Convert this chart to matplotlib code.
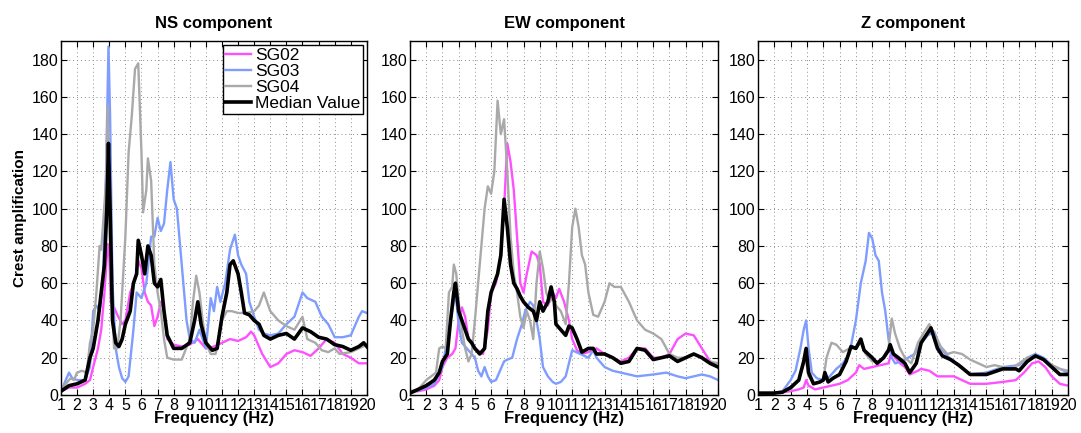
import numpy as np
from matplotlib import pyplot as plt

plt.rcParams['font.family'] = ['Liberation Sans', 'DejaVu Sans']

# colours of the stations
c_sg02 = '#ff50ff'
c_sg03 = '#7f9cff'
c_sg04 = '#a9a9a9'

# ---- NS component ----
ns_sg02_f = [1.0, 1.5, 2.0, 2.5, 2.8, 3.0, 3.3, 3.5, 3.7, 3.9, 4.0, 4.1, 4.3, 4.5, 4.8, 5.0, 5.3, 5.6, 5.8, 6.0, 6.2, 6.4, 6.6, 6.8, 7.0, 7.2, 7.4, 7.6, 8.0, 8.5, 9.0, 9.5, 10.0, 10.5, 11.0, 11.5, 12.0, 12.5, 12.8, 13.0, 13.5, 14.0, 14.5, 15.0, 15.5, 16.0, 16.5, 17.0, 17.5, 18.0, 18.5, 19.0, 19.5, 20.0]
ns_sg02_v = [2, 4, 4, 6, 8, 15, 25, 35, 55, 81, 75, 50, 47, 43, 38, 40, 55, 62, 72, 68, 55, 50, 48, 37, 42, 50, 45, 30, 27, 26, 27, 30, 25, 26, 28, 30, 29, 31, 34, 32, 22, 15, 17, 22, 24, 23, 21, 25, 30, 28, 22, 20, 17, 17]
ns_sg03_f = [1.0, 1.3, 1.5, 1.7, 2.0, 2.5, 2.8, 3.0, 3.2, 3.4, 3.6, 3.8, 3.95, 4.05, 4.2, 4.4, 4.6, 4.8, 5.0, 5.2, 5.5, 5.7, 6.0, 6.3, 6.6, 6.8, 7.0, 7.2, 7.4, 7.6, 7.8, 8.0, 8.2, 8.4, 8.6, 8.8, 9.0, 9.3, 9.6, 10.0, 10.3, 10.5, 10.7, 10.9, 11.2, 11.5, 11.8, 12.0, 12.2, 12.5, 12.7, 13.0, 13.3, 13.6, 14.0, 14.5, 15.0, 15.5, 16.0, 16.3, 16.8, 17.2, 17.6, 18.0, 18.5, 19.0, 19.5, 19.7, 20.0]
ns_sg03_v = [2, 8, 12, 9, 8, 8, 15, 45, 48, 45, 60, 120, 187, 150, 60, 25, 15, 9, 7, 10, 35, 55, 52, 60, 85, 85, 95, 88, 92, 110, 125, 105, 100, 80, 60, 40, 30, 28, 35, 25, 52, 45, 58, 50, 60, 78, 86, 75, 70, 65, 50, 42, 35, 33, 32, 33, 38, 42, 55, 52, 50, 42, 38, 31, 31, 32, 42, 45, 44]
ns_sg04_f = [1.0, 1.3, 1.6, 1.8, 2.0, 2.3, 2.6, 2.8, 3.0, 3.2, 3.4, 3.5, 3.6, 3.8, 3.9, 4.0, 4.1, 4.3, 4.5, 4.7, 5.0, 5.2, 5.4, 5.6, 5.8, 6.0, 6.1, 6.3, 6.4, 6.6, 6.8, 7.0, 7.2, 7.4, 7.6, 8.0, 8.5, 9.0, 9.2, 9.4, 9.6, 9.8, 10.0, 10.3, 10.6, 10.8, 11.0, 11.3, 11.6, 12.0, 12.5, 13.0, 13.3, 13.6, 14.0, 14.5, 15.0, 15.5, 16.0, 16.3, 16.8, 17.2, 17.6, 18.0, 18.3, 19.0, 20.0]
ns_sg04_v = [2, 6, 9, 8, 12, 13, 12, 28, 35, 55, 80, 78, 90, 115, 155, 100, 60, 25, 25, 40, 85, 130, 150, 175, 178, 130, 98, 110, 127, 115, 70, 55, 45, 30, 20, 19, 19, 30, 50, 64, 55, 40, 28, 22, 22, 30, 40, 45, 45, 44, 44, 45, 48, 55, 45, 40, 37, 35, 42, 30, 28, 24, 23, 25, 22, 23, 27]
ns_med_f = [1.0, 1.5, 2.0, 2.5, 2.8, 3.0, 3.3, 3.5, 3.7, 3.85, 3.95, 4.05, 4.2, 4.4, 4.6, 4.8, 5.0, 5.3, 5.5, 5.7, 5.8, 6.0, 6.2, 6.4, 6.6, 6.8, 7.0, 7.2, 7.4, 7.6, 8.0, 8.5, 9.0, 9.3, 9.5, 9.7, 10.0, 10.4, 10.7, 11.0, 11.3, 11.5, 11.7, 12.0, 12.2, 12.4, 12.7, 13.0, 13.3, 13.6, 14.0, 14.5, 15.0, 15.5, 16.0, 16.5, 17.0, 17.5, 18.0, 18.5, 19.0, 19.5, 19.8, 20.0]
ns_med_v = [2, 5, 6, 8, 20, 25, 40, 55, 70, 100, 135, 100, 40, 28, 26, 30, 38, 45, 60, 65, 83, 75, 65, 80, 75, 60, 58, 62, 45, 32, 25, 25, 28, 40, 50, 38, 28, 24, 25, 42, 55, 70, 72, 65, 55, 44, 43, 40, 38, 32, 30, 32, 33, 30, 36, 34, 31, 30, 27, 26, 24, 26, 28, 26]

# ---- EW component ----
ew_sg02_f = [1.0, 1.5, 2.0, 2.5, 2.8, 3.0, 3.3, 3.6, 3.8, 4.0, 4.2, 4.4, 4.6, 5.0, 5.5, 5.8, 6.0, 6.3, 6.6, 6.8, 7.0, 7.2, 7.4, 7.6, 7.8, 8.0, 8.2, 8.5, 8.8, 9.0, 9.2, 9.5, 9.8, 10.0, 10.2, 10.5, 10.8, 11.0, 11.3, 11.6, 12.0, 12.5, 13.0, 13.5, 14.0, 14.5, 15.0, 15.5, 16.0, 16.5, 17.0, 17.5, 18.0, 18.5, 19.0, 19.5, 20.0]
ew_sg02_v = [2, 2, 3, 5, 8, 15, 20, 22, 25, 40, 47, 42, 30, 25, 22, 35, 55, 60, 75, 100, 135, 125, 110, 85, 60, 55, 65, 77, 75, 70, 50, 48, 55, 52, 57, 50, 40, 30, 24, 22, 23, 25, 22, 20, 18, 20, 25, 25, 20, 20, 22, 30, 33, 32, 25, 18, 15]
ew_sg03_f = [1.0, 2.0, 2.5, 3.0, 3.3, 3.6, 3.8, 4.0, 4.2, 4.5, 4.8, 5.0, 5.2, 5.4, 5.6, 5.8, 6.0, 6.3, 6.5, 6.8, 7.0, 7.3, 7.6, 7.9, 8.1, 8.4, 8.6, 8.8, 9.0, 9.2, 9.5, 9.8, 10.0, 10.3, 10.6, 11.0, 11.5, 12.0, 12.3, 12.5, 13.0, 13.5, 14.0, 15.0, 16.0, 16.8, 17.5, 18.0, 19.0, 19.5, 20.0]
ew_sg03_v = [1, 4, 6, 15, 30, 45, 55, 38, 28, 25, 22, 20, 13, 10, 15, 10, 7, 8, 12, 18, 19, 20, 30, 38, 45, 50, 48, 40, 30, 15, 10, 7, 6, 7, 10, 24, 22, 20, 24, 20, 15, 13, 12, 10, 11, 12, 10, 9, 11, 10, 8]
ew_sg04_f = [1.0, 1.5, 2.0, 2.3, 2.6, 2.8, 3.0, 3.2, 3.4, 3.6, 3.7, 3.85, 4.0, 4.2, 4.4, 4.6, 4.8, 5.0, 5.3, 5.6, 5.8, 6.0, 6.2, 6.4, 6.6, 6.8, 7.0, 7.2, 7.4, 7.6, 7.8, 8.0, 8.2, 8.4, 8.6, 8.8, 9.0, 9.2, 9.4, 9.6, 9.8, 10.0, 10.3, 10.6, 10.8, 11.0, 11.2, 11.4, 11.6, 11.8, 12.0, 12.3, 12.6, 13.0, 13.3, 13.6, 14.0, 14.5, 15.0, 15.5, 16.0, 16.5, 17.0, 17.5, 18.0, 18.5, 19.0, 19.5, 20.0]
ew_sg04_v = [2, 3, 8, 10, 12, 25, 26, 25, 55, 58, 70, 65, 50, 35, 25, 18, 22, 40, 70, 100, 112, 108, 120, 158, 140, 148, 120, 85, 65, 55, 42, 36, 45, 40, 30, 60, 77, 68, 55, 50, 52, 48, 45, 38, 60, 90, 100, 90, 75, 70, 55, 43, 42, 50, 60, 58, 58, 50, 40, 35, 33, 30, 22, 20, 20, 22, 20, 18, 17]
ew_med_f = [1.0, 1.5, 2.0, 2.5, 2.8, 3.0, 3.3, 3.5, 3.7, 3.8, 4.0, 4.2, 4.4, 4.6, 4.8, 5.0, 5.3, 5.6, 5.8, 6.0, 6.2, 6.4, 6.6, 6.8, 7.0, 7.2, 7.4, 7.6, 7.8, 8.0, 8.3, 8.6, 8.8, 9.0, 9.2, 9.5, 9.7, 9.9, 10.0, 10.3, 10.6, 10.8, 11.0, 11.3, 11.6, 12.0, 12.3, 12.5, 13.0, 13.5, 14.0, 14.5, 15.0, 15.5, 16.0, 16.5, 17.0, 17.5, 18.0, 18.5, 19.0, 19.5, 20.0]
ew_med_v = [1, 3, 5, 8, 12, 18, 22, 40, 55, 60, 45, 40, 35, 30, 28, 25, 22, 25, 45, 55, 60, 65, 75, 105, 90, 70, 60, 57, 53, 50, 47, 45, 40, 50, 45, 50, 58, 50, 38, 35, 32, 37, 36, 30, 23, 25, 25, 22, 22, 20, 17, 18, 25, 24, 19, 20, 21, 18, 20, 22, 20, 17, 15]

# ---- Z component ----
z_sg02_f = [1.0, 2.0, 2.5, 3.0, 3.5, 3.8, 3.95, 4.1, 4.5, 5.0, 5.5, 6.0, 6.5, 7.0, 7.2, 7.5, 8.0, 8.5, 9.0, 9.2, 9.4, 9.7, 10.0, 10.3, 10.8, 11.0, 11.5, 12.0, 12.5, 13.0, 13.5, 14.0, 15.0, 16.0, 16.8, 17.3, 17.8, 18.2, 18.6, 19.0, 19.5, 20.0]
z_sg02_v = [0.5, 1, 1.5, 2, 3, 4, 8, 5, 3, 4, 5, 6, 8, 12, 16, 14, 15, 16, 17, 24, 20, 17, 15, 11, 13, 14, 13, 10, 10, 10, 8, 6, 6, 7, 8, 12, 17, 18, 15, 10, 6, 5]
z_sg03_f = [1.0, 2.0, 2.5, 3.0, 3.3, 3.6, 3.8, 3.95, 4.1, 4.3, 4.6, 5.0, 5.4, 5.8, 6.2, 6.6, 7.0, 7.3, 7.6, 7.8, 8.0, 8.2, 8.4, 8.6, 8.8, 9.0, 9.2, 9.4, 9.8, 10.2, 10.6, 11.0, 11.4, 11.8, 12.2, 12.6, 13.0, 13.5, 14.0, 15.0, 16.0, 17.0, 17.5, 18.0, 18.5, 19.0, 19.5, 20.0]
z_sg03_v = [1, 1, 2, 8, 13, 25, 35, 40, 25, 12, 9, 8, 10, 14, 17, 22, 40, 60, 72, 87, 84, 75, 72, 55, 45, 30, 20, 17, 18, 20, 22, 28, 32, 34, 25, 21, 18, 15, 11, 12, 15, 16, 20, 22, 20, 16, 14, 12]
z_sg04_f = [1.0, 2.0, 2.5, 3.0, 3.5, 3.9, 4.1, 4.5, 5.0, 5.2, 5.5, 5.8, 6.2, 6.6, 7.0, 7.3, 7.6, 8.0, 8.5, 9.0, 9.2, 9.4, 9.7, 10.0, 10.4, 10.8, 11.2, 11.5, 11.8, 12.2, 12.6, 13.0, 13.5, 14.0, 14.5, 15.0, 15.5, 16.0, 16.5, 17.0, 17.5, 18.0, 18.5, 19.0, 19.5, 20.0]
z_sg04_v = [1, 1, 1.5, 3, 8, 20, 10, 6, 8, 20, 28, 27, 23, 25, 25, 28, 22, 18, 18, 25, 41, 33, 25, 20, 17, 28, 34, 38, 33, 26, 22, 23, 22, 19, 17, 15, 16, 15, 14, 17, 20, 21, 19, 16, 14, 13]
z_med_f = [1.0, 2.0, 2.5, 3.0, 3.5, 3.8, 3.95, 4.1, 4.4, 4.8, 5.0, 5.1, 5.3, 5.6, 6.0, 6.4, 6.7, 7.0, 7.3, 7.5, 8.0, 8.3, 8.7, 9.0, 9.1, 9.3, 9.6, 10.0, 10.3, 10.7, 11.0, 11.3, 11.6, 12.0, 12.3, 12.8, 13.3, 14.0, 15.0, 16.0, 16.8, 17.0, 17.5, 18.0, 18.5, 19.0, 19.5, 20.0]
z_med_v = [1, 1, 1.5, 4, 8, 18, 25, 12, 6, 7, 8, 12, 7, 9, 11, 18, 26, 25, 30, 24, 20, 17, 20, 24, 27, 22, 20, 17, 12, 17, 28, 32, 36, 25, 21, 19, 16, 11, 11, 14, 14, 13, 18, 21, 19, 15, 11, 11]

panels = [
    ('NS component', (ns_sg02_f, ns_sg02_v), (ns_sg03_f, ns_sg03_v), (ns_sg04_f, ns_sg04_v), (ns_med_f, ns_med_v)),
    ('EW component', (ew_sg02_f, ew_sg02_v), (ew_sg03_f, ew_sg03_v), (ew_sg04_f, ew_sg04_v), (ew_med_f, ew_med_v)),
    ('Z component', (z_sg02_f, z_sg02_v), (z_sg03_f, z_sg03_v), (z_sg04_f, z_sg04_v), (z_med_f, z_med_v)),
]
xticks = list(range(1, 21))
yticks = list(range(0, 181, 20))

fig = plt.figure(figsize=(10.81, 4.33), dpi=100)
lefts = [0.0564, 0.3793, 0.7012]
widths = [0.283, 0.285, 0.2868]

for i, (title, s2, s3, s4, med) in enumerate(panels):
    ax = fig.add_axes([lefts[i], 0.0878, widths[i], 0.8176])
    ax.plot(s2[0], s2[1], color=c_sg02, lw=1.7, label='SG02')
    ax.plot(s3[0], s3[1], color=c_sg03, lw=1.7, label='SG03')
    ax.plot(s4[0], s4[1], color=c_sg04, lw=1.7, label='SG04')
    ax.plot(med[0], med[1], color='black', lw=2.6, label='Median Value')

    ax.set_xlim(1, 20)
    ax.set_ylim(0, 190)
    ax.set_xticks(xticks)
    ax.set_yticks(yticks)
    ax.tick_params(direction='in', top=True, right=True, labelsize=11.5, length=4, pad=2)
    ax.grid(True, linestyle=(0, (1, 3)), color='#8c8c8c', lw=0.7)
    for sp in ax.spines.values():
        sp.set_linewidth(1.0)
    ax.set_title(title, fontsize=12, fontweight='bold', pad=9)
    ax.set_xlabel('Frequency (Hz)', fontsize=12, fontweight='bold', labelpad=-1)
    if i == 0:
        ax.set_ylabel('Crest amplification', fontsize=11, fontweight='bold', labelpad=3)
        leg = ax.legend(loc='upper right', fontsize=12.5, fancybox=False, framealpha=1,
                        handlelength=1.5, handletextpad=0.2, borderpad=0.15,
                        labelspacing=0.05, borderaxespad=0.25)
        leg.get_frame().set_edgecolor('black')
        leg.get_frame().set_linewidth(1.0)

fig.savefig('out.png', dpi=100)
